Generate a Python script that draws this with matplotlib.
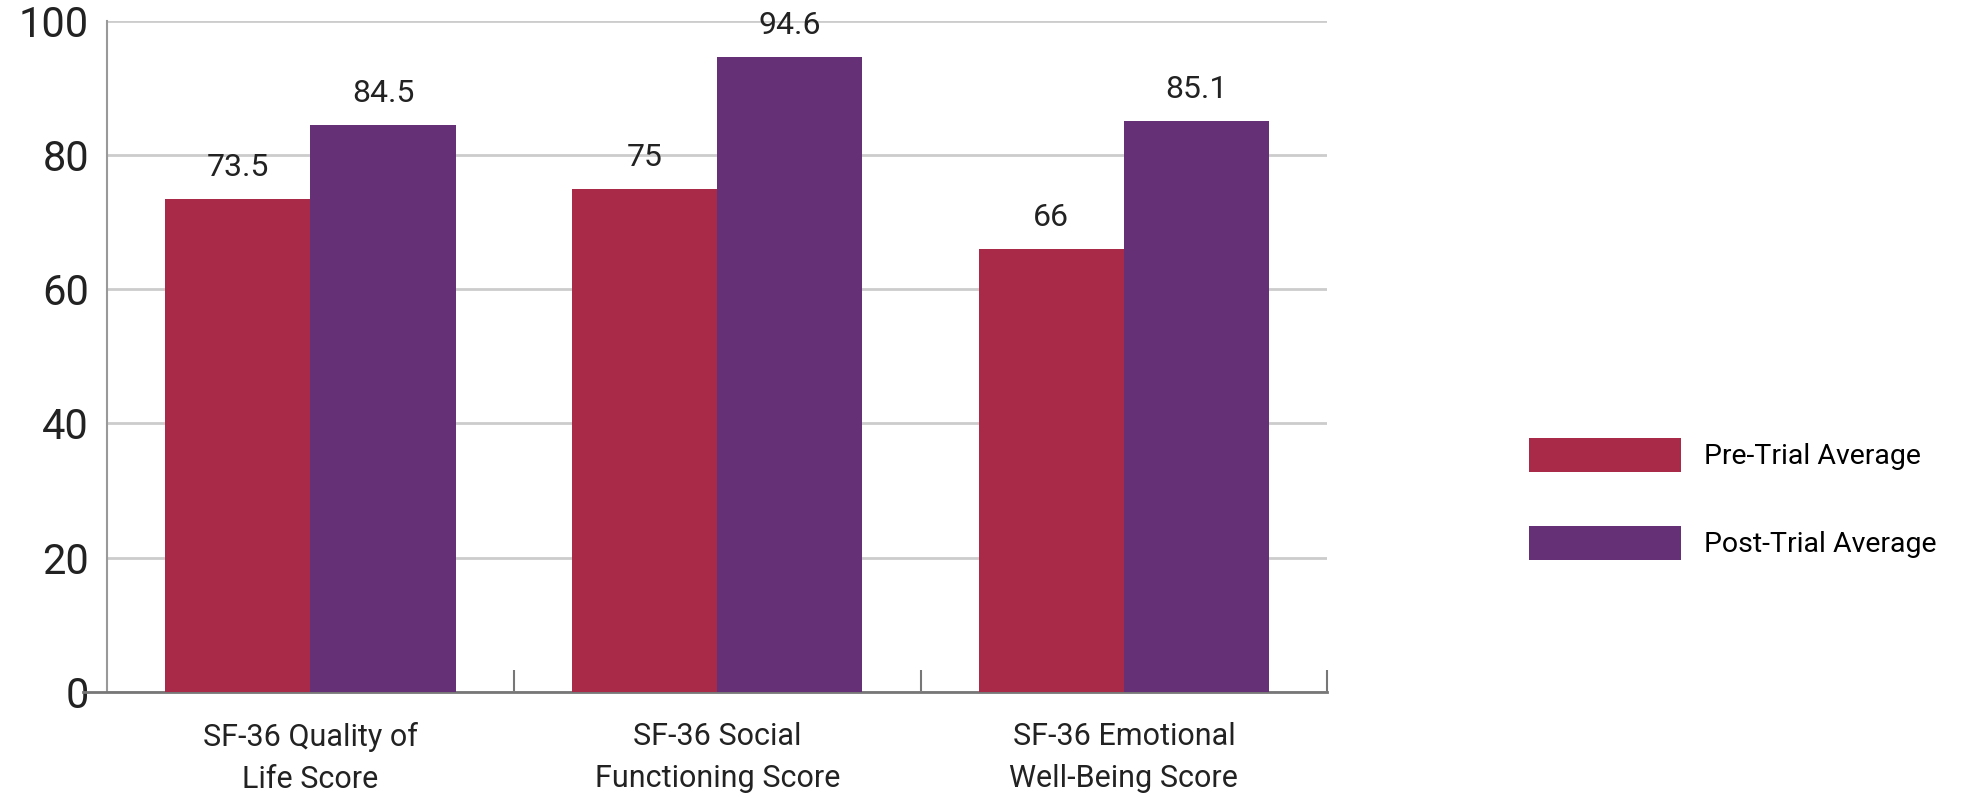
import matplotlib.pyplot as plt
import numpy as np

plt.rcParams['font.family'] = ['Roboto', 'DejaVu Sans']

categories = ['SF-36 Quality of\nLife Score', 'SF-36 Social\nFunctioning Score',
              'SF-36 Emotional\nWell-Being Score']
pre_trial = [73.5, 75, 66]
post_trial = [84.5, 94.6, 85.1]
pre_labels = ['73.5', '75', '66']
post_labels = ['84.5', '94.6', '85.1']
series_names = ['Pre-Trial Average', 'Post-Trial Average']
yticks = [0, 20, 40, 60, 80, 100]

red = '#a82a48'
purple = '#653075'

fig = plt.figure(figsize=(19.84, 7.98), dpi=100)
ax = fig.add_axes([0.054, 0.133, 0.615, 0.841])

x = np.arange(len(categories))
w = 0.357
b1 = ax.bar(x - w/2, pre_trial, w, color=red, label=series_names[0], zorder=3)
b2 = ax.bar(x + w/2, post_trial, w, color=purple, label=series_names[1], zorder=3)

for bars, labs in ((b1, pre_labels), (b2, post_labels)):
    for r, t in zip(bars, labs):
        ax.annotate(t, (r.get_x() + r.get_width()/2, r.get_height()),
                    xytext=(0, 12), textcoords='offset points',
                    ha='center', va='bottom', fontsize=23, color='#222222')

ax.set_xlim(-0.5, 2.5)
ax.set_ylim(0, 100)
ax.set_yticks(yticks)
ax.tick_params(axis='y', length=0, pad=13, labelsize=30, labelcolor='#222222')

ax.set_xticks(x)
ax.set_xticklabels(categories, fontsize=22, color='#222222', linespacing=1.55)
ax.tick_params(axis='x', length=0, pad=22)
ax.set_xticks([0.5, 1.5, 2.5], minor=True)
ax.tick_params(axis='x', which='minor', direction='in', length=16, width=1.5, color='#777777')

ax.grid(axis='y', color='#cccccc', linewidth=2, zorder=0)
for s in ('top', 'right'):
    ax.spines[s].set_visible(False)
ax.spines['left'].set_color('#999999')
ax.spines['left'].set_linewidth(1.5)
ax.spines['bottom'].set_color('#777777')
ax.spines['bottom'].set_linewidth(2)
ax.spines['bottom'].set_bounds(-0.56, 2.5)

fig.legend(handles=[b1, b2], labels=series_names, loc='center left',
           bbox_to_anchor=(0.7575, 0.375), frameon=False, fontsize=20.5,
           handlelength=5.35, handleheight=1.45, labelspacing=1.9, handletextpad=0.8)

fig.savefig('out.png', dpi=100, facecolor='white')
